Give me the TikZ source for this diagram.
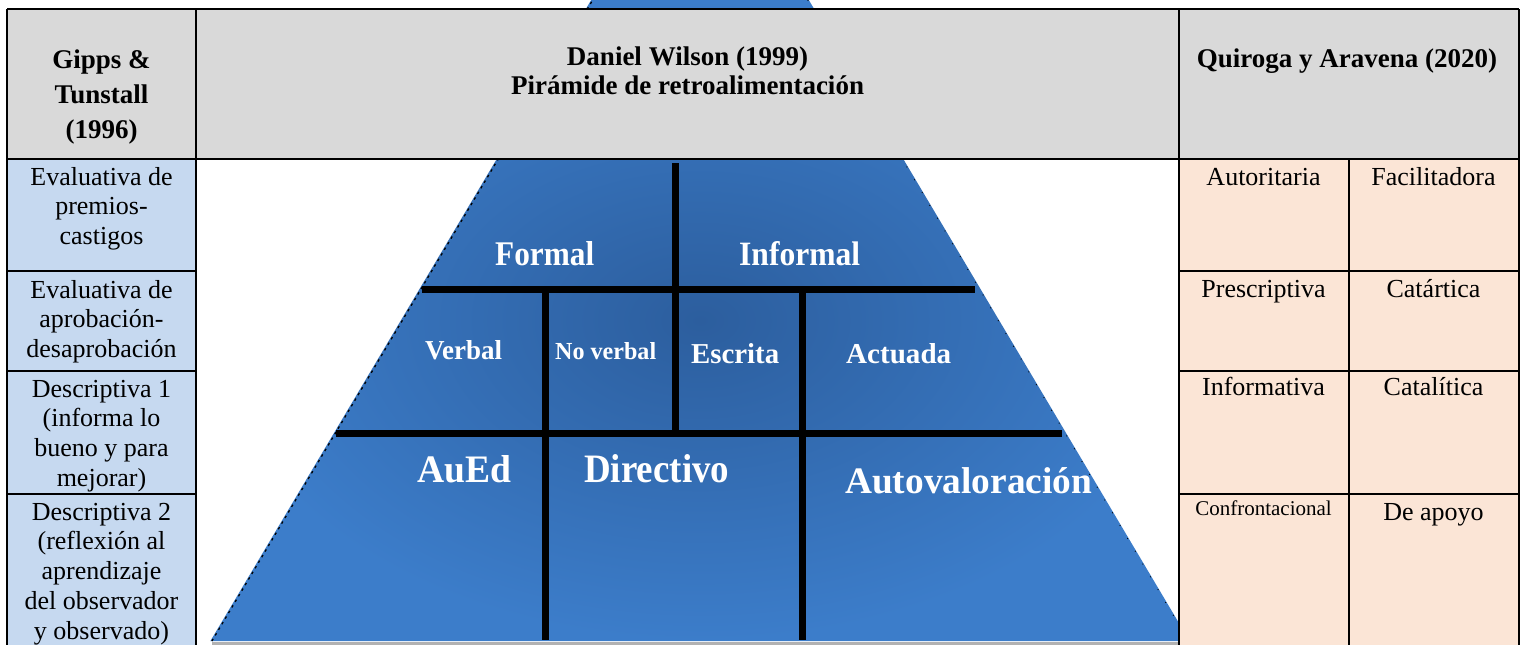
\documentclass[tikz,border=0pt]{standalone}
\usepackage{fontspec}
\setmainfont{Liberation Serif}
\usepackage{graphicx}
\definecolor{hdrgray}{RGB}{217,217,217}
\definecolor{lblue}{RGB}{198,217,240}
\definecolor{peach}{RGB}{251,229,214}
\definecolor{pyr}{RGB}{60,125,202}
\definecolor{pyrdark}{RGB}{44,94,158}
\newcommand\pyrlab[3]{\resizebox{#1pt}{#2pt}{\bfseries #3}}
\newcommand\tlines[1]{\begin{tabular}[t]{@{}c@{}}#1\end{tabular}}
\begin{document}
\begin{tikzpicture}[x=1pt,y=-1pt,
  hdr/.style={font=\fontsize{27}{35}\selectfont\bfseries, anchor=base, inner sep=0pt},
  cell/.style={font=\fontsize{26}{29.8}\selectfont, anchor=base, inner sep=0pt},
  plab/.style={text=white, anchor=base west, inner sep=0pt},
  grid/.style={line width=1.8pt, black},
  bar/.style={line width=7pt, black}]

\useasboundingbox (0,0) rectangle (1525,645);
\fill[white] (0,0) rectangle (1525,645);

% pyramid
\coordinate (pTL) at (591.2,0);
\coordinate (pTR) at (808.8,0);
\coordinate (pBR) at (1189.6,641);
\coordinate (pBL) at (210.4,641);
\draw[black!30, line width=2.5pt] (212,643.5) -- (1180,643.5);
\shade[inner color=pyrdark, outer color=pyr] (pTL) -- (pTR) -- (pBR) -- (pBL) -- cycle;
\draw[black, line width=1.3pt, dash pattern=on 2.5pt off 4pt] ([xshift=1.5pt]pBL) -- ([xshift=1.5pt]pTL);
\draw[black, line width=0.9pt, dash pattern=on 0.9pt off 14pt] ([xshift=-1pt]pTR) -- ([xshift=-1pt]pBR);

% column fills
\fill[lblue] (7,159) rectangle (196,645);
\fill[peach] (1179,159) rectangle (1519,645);
\fill[hdrgray] (7,9) rectangle (1519,159);

% pyramid bars
\coordinate (v1a) at (675,163);  \coordinate (v1b) at (675,433);
\coordinate (h1a) at (422,289);  \coordinate (h1b) at (975,289);
\coordinate (h2a) at (336,433);  \coordinate (h2b) at (1062,433);
\coordinate (v2a) at (545,289);  \coordinate (v2b) at (545,640);
\coordinate (v3a) at (802,289);  \coordinate (v3b) at (802,640);
\draw[bar] (v1a) -- (v1b);
\draw[bar] (h1a) -- (h1b);
\draw[bar] (h2a) -- (h2b);
\draw[bar] (v2a) -- (v2b);
\draw[bar] (v3a) -- (v3b);

% pyramid labels
\node[plab] (formal) at (495,265) {\pyrlab{99}{24}{Formal}};
\node[plab] (informal) at (739,265) {\pyrlab{121}{24}{Informal}};
\node[plab] (verbal) at (425,359) {\pyrlab{77}{19}{Verbal}};
\node[plab] (noverbal) at (555,359) {\pyrlab{101}{17}{No verbal}};
\node[plab] (escrita) at (691,363) {\pyrlab{88}{20}{Escrita}};
\node[plab] (actuada) at (846,363) {\pyrlab{105}{20}{Actuada}};
\node[plab] (aued) at (417,482) {\pyrlab{94}{27}{AuEd}};
\node[plab] (directivo) at (584,482) {\pyrlab{145}{28}{Directivo}};
\node[plab] (autoval) at (845,493) {\resizebox{247pt}{!}{\bfseries Autovaloración}};

% grid lines
\draw[grid] (7,9) -- (1519,9);
\draw[grid] (7,9) -- (7,645);
\draw[grid] (1519,9) -- (1519,645);
\draw[grid] (196,9) -- (196,645);
\draw[grid] (1179,9) -- (1179,645);
\draw[grid] (7,159) -- (1519,159);
\draw[grid] (1349,159) -- (1349,645);
\foreach \yy in {271,371,494} {
  \draw[grid] (7,\yy) -- (196,\yy);
  \draw[grid] (1179,\yy) -- (1519,\yy);
}

% headers
\node[hdr] (h1) at (101.5,68) {\tlines{Gipps \&\\Tunstall\\(1996)}};
\node[hdr, font=\fontsize{27}{29}\selectfont\bfseries] (h2) at (687.5,65) {\tlines{Daniel Wilson (1999)\\Pirámide de retroalimentación}};
\node[hdr] (h3) at (1347,67) {Quiroga y Aravena (2020)};

% left column
\node[cell] (l1) at (101.5,185) {\tlines{Evaluativa de\\premios-\\castigos}};
\node[cell] (l2) at (101.5,298) {\tlines{Evaluativa de\\aprobación-\\desaprobación}};
\node[cell] (l3) at (101.5,397) {\tlines{Descriptiva 1\\(informa lo\\bueno y para\\mejorar)}};
\node[cell] (l4) at (101.5,520) {\tlines{Descriptiva 2\\(reflexión al\\aprendizaje\\del observador\\y observado)}};

% right columns
\node[cell] (r1a) at (1263.5,185) {Autoritaria};
\node[cell] (r1b) at (1433.5,185) {Facilitadora};
\node[cell] (r2a) at (1263.5,297) {Prescriptiva};
\node[cell] (r2b) at (1433.5,297) {Catártica};
\node[cell] (r3a) at (1263.5,395) {Informativa};
\node[cell] (r3b) at (1433.5,395) {Catalítica};
\node[cell, font=\fontsize{21}{24}\selectfont] (r4a) at (1263.5,515) {Confrontacional};
\node[cell] (r4b) at (1433.5,520) {De apoyo};
\end{tikzpicture}
\end{document}
